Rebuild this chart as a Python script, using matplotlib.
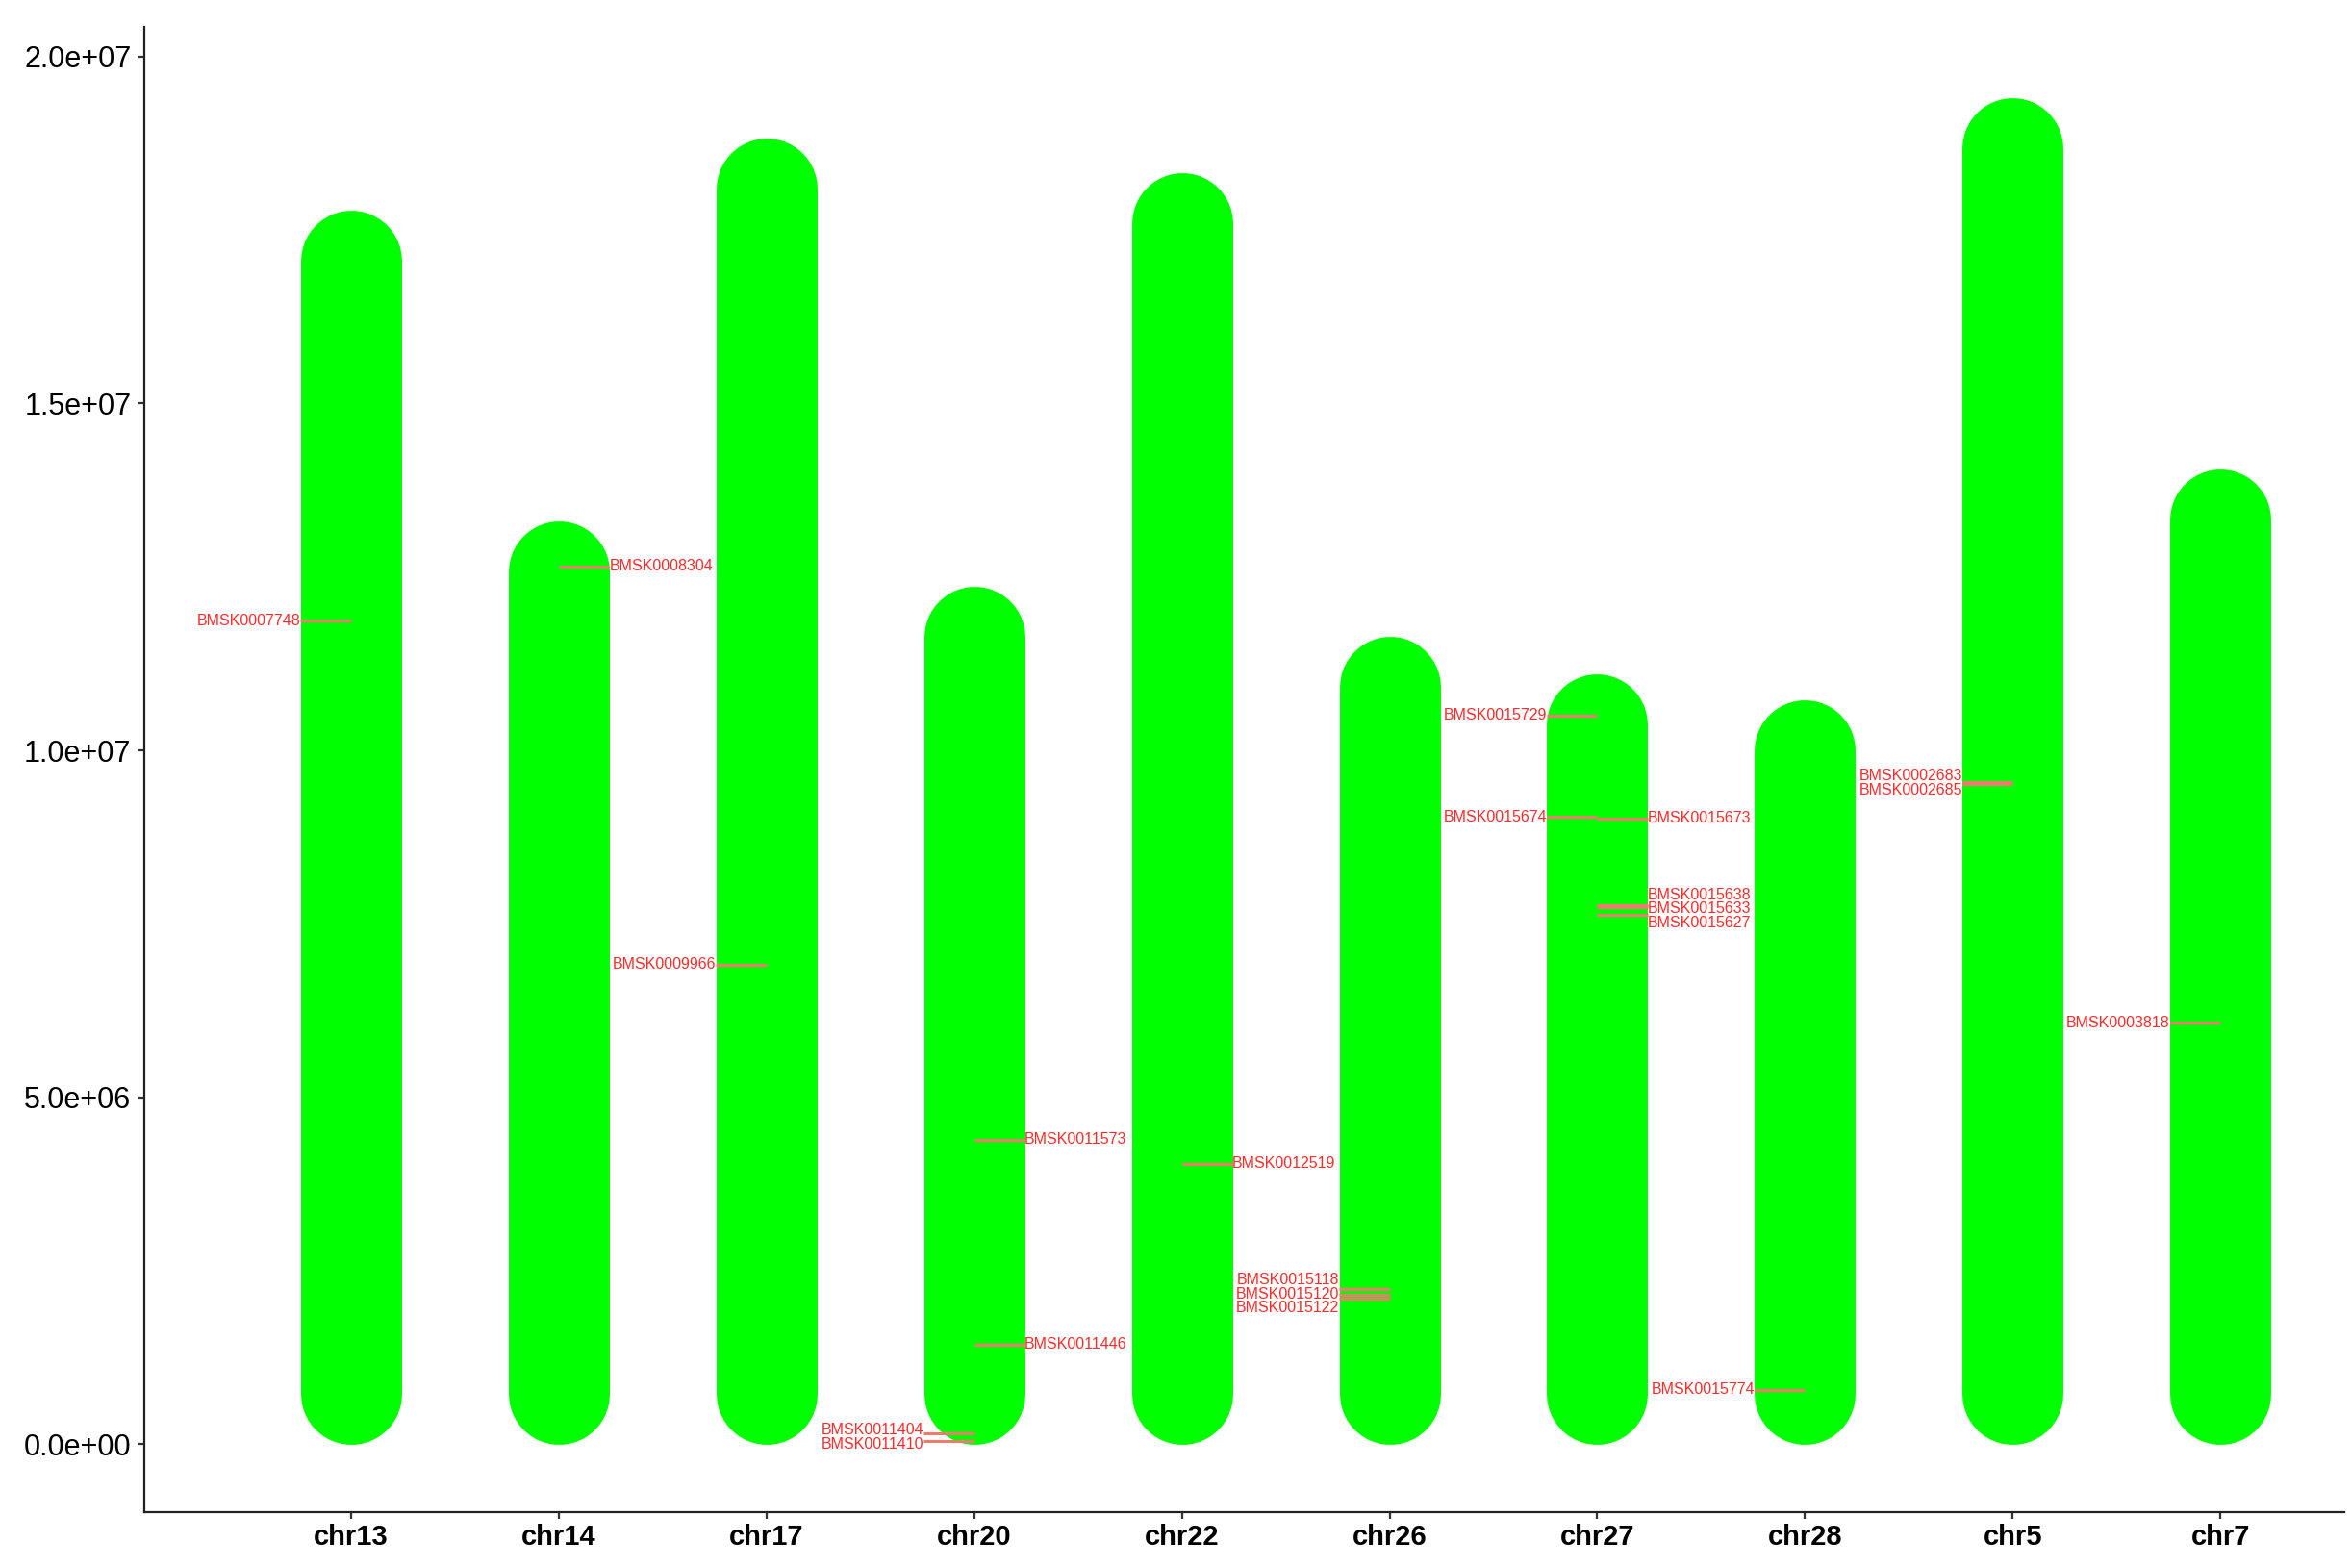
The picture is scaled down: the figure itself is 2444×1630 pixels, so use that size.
import numpy as np
import matplotlib
matplotlib.use("Agg")
import matplotlib.pyplot as plt
from matplotlib.ticker import FuncFormatter

plt.rcParams["font.family"] = ["Liberation Sans", "DejaVu Sans"]

# chromosome lengths (bp)
chroms = ["chr13", "chr14", "chr17", "chr20", "chr22",
          "chr26", "chr27", "chr28", "chr5", "chr7"]
chrom_len = [1.778e7, 1.331e7, 1.883e7, 1.236e7, 1.833e7,
             1.164e7, 1.110e7, 1.073e7, 1.941e7, 1.405e7]

# markers
marker_names = ["BMSK0007748", "BMSK0008304", "BMSK0009966",
                "BMSK0011573", "BMSK0011446", "BMSK0011404", "BMSK0011410",
                "BMSK0012519",
                "BMSK0015118", "BMSK0015120", "BMSK0015122",
                "BMSK0015729", "BMSK0015674", "BMSK0015673",
                "BMSK0015638", "BMSK0015633", "BMSK0015627",
                "BMSK0015774",
                "BMSK0002683", "BMSK0002685",
                "BMSK0003818"]
marker_chrom = ["chr13", "chr14", "chr17",
                "chr20", "chr20", "chr20", "chr20",
                "chr22",
                "chr26", "chr26", "chr26",
                "chr27", "chr27", "chr27",
                "chr27", "chr27", "chr27",
                "chr28",
                "chr5", "chr5",
                "chr7"]
marker_pos = [1.187e7, 1.265e7, 6.91e6,
              4.39e6, 1.435e6, 1.59e5, 4.8e4,
              4.04e6,
              2.24e6, 2.157e6, 2.10e6,
              1.050e7, 9.04e6, 9.02e6,
              7.77e6, 7.745e6, 7.63e6,
              7.83e5,
              9.54e6, 9.52e6,
              6.07e6]
marker_side = ["L", "R", "L",
               "R", "R", "L", "L",
               "R",
               "L", "L", "L",
               "L", "L", "R",
               "R", "R", "R",
               "L",
               "L", "L",
               "L"]


def spread(vals, gap):
    # push close labels apart (simple 1D repel)
    vals = np.asarray(vals, dtype=float)
    order = np.argsort(vals)
    pos = vals[order].copy()
    for _ in range(500):
        moved = False
        for k in range(len(pos) - 1):
            d = pos[k + 1] - pos[k]
            if d < gap - 1:
                s = (gap - d) / 2
                pos[k] -= s
                pos[k + 1] += s
                moved = True
        if not moved:
            break
    out = np.empty_like(pos)
    out[order] = pos
    return out


dpi = 100
fig = plt.figure(figsize=(24.44, 16.30), dpi=dpi)
ax = fig.add_axes([0.0615, 0.0356, 0.9355, 0.9474])
ax.set_xlim(0.006, 10.595)
ax.set_ylim(-9.8e5, 2.043e7)

# bar geometry from the data transform
fig.canvas.draw()
p0 = ax.transData.transform((0, 0))
p1 = ax.transData.transform((1, 1))
px_x = p1[0] - p0[0]
px_y = p1[1] - p0[1]
bar_w = 0.486
lw_px = bar_w * px_x
lw_pt = lw_px * 72 / dpi
r_y = (lw_px / 2) / px_y
half = bar_w / 2

xpos = {c: i + 1 for i, c in enumerate(chroms)}
for c, L in zip(chroms, chrom_len):
    x = xpos[c]
    ax.plot([x, x], [r_y, L - r_y], color="#00FF00", lw=lw_pt,
            solid_capstyle="round", zorder=1)

# label positions per chromosome/side group
label_y = np.array(marker_pos, dtype=float)
groups = {}
for i, (c, s) in enumerate(zip(marker_chrom, marker_side)):
    groups.setdefault((c, s), []).append(i)
for key, idx in groups.items():
    label_y[idx] = spread([marker_pos[i] for i in idx], 2.05e5)

for name, c, v, s, ly in zip(marker_names, marker_chrom, marker_pos,
                             marker_side, label_y):
    x = xpos[c]
    xe = x - half if s == "L" else x + half
    ax.plot([x, xe], [v, v], color="#F07A70", lw=2.2, zorder=2,
            solid_capstyle="butt")
    ax.text(xe, ly, name, color="#FF2A2A", fontsize=11.5,
            ha="right" if s == "L" else "left", va="center", zorder=3)

ax.set_xticks(range(1, len(chroms) + 1))
ax.set_xticklabels(chroms, fontweight="bold")
ax.set_yticks([0, 5e6, 1e7, 1.5e7, 2e7])
ax.yaxis.set_major_formatter(FuncFormatter(lambda v, p: f"{v:.1e}"))

for side in ["top", "right"]:
    ax.spines[side].set_visible(False)
for side in ["left", "bottom"]:
    ax.spines[side].set_linewidth(1.6)
    ax.spines[side].set_color("#222222")
ax.tick_params(axis="both", length=5, width=1.6, color="#333333",
               labelcolor="black")
ax.tick_params(axis="y", pad=5, labelsize=22)
ax.tick_params(axis="x", pad=4, labelsize=21)

fig.savefig("out.png", dpi=dpi)
